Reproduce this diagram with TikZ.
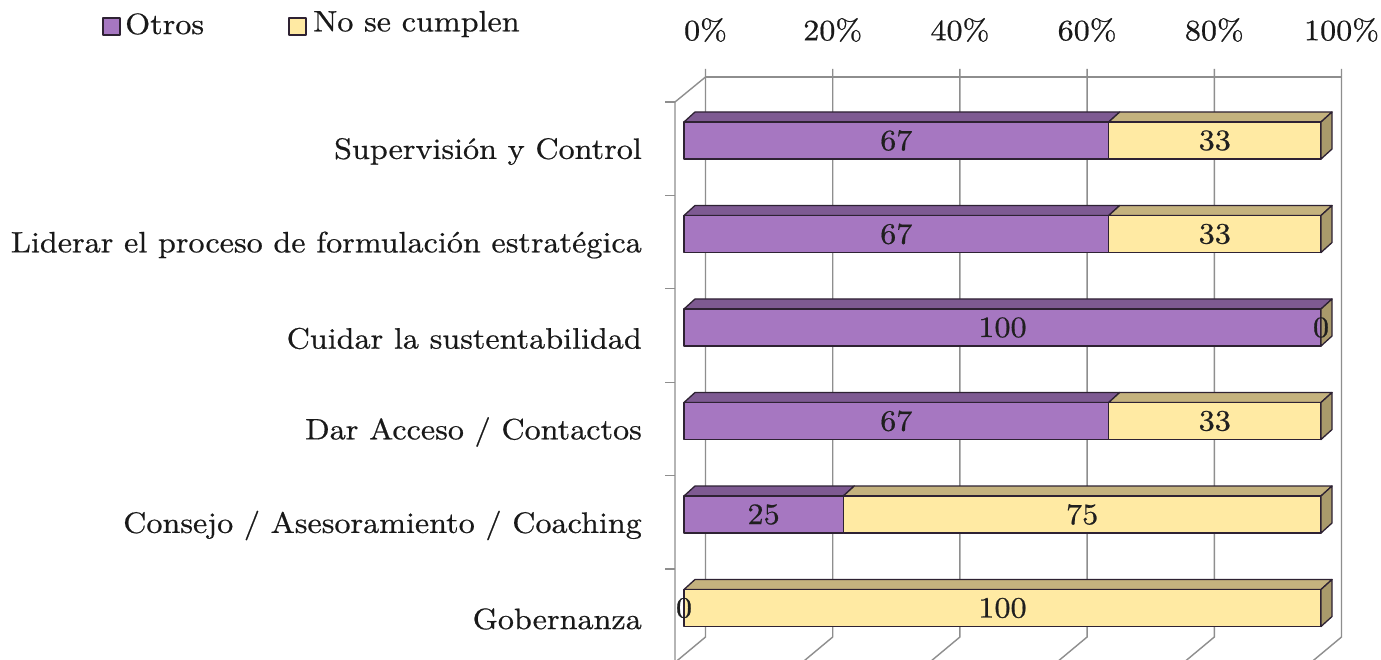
\documentclass[tikz,border=0pt]{standalone}
\usepackage{fontspec}
\setmainfont{lmroman10-regular.otf}[FakeStretch=1.09, FakeBold=0.6]
\definecolor{pfront}{HTML}{A677C1}
\definecolor{ptop}{HTML}{7E5A92}
\definecolor{yfront}{HTML}{FFEAA3}
\definecolor{ytop}{HTML}{C4B27E}
\definecolor{yside}{HTML}{A99A6B}
\definecolor{edgec}{HTML}{2E2233}
\definecolor{gridc}{HTML}{8E8E8E}
\tikzset{
  gridline/.style={draw=gridc, line width=1.4pt},
  baredge/.style={draw=edgec, line width=1.3pt, line join=round},
  txt/.style={font=\fontsize{29.5}{34}\selectfont, inner sep=0pt, text=black!90},
  vallab/.style={txt, text=black!88},
}
% segment: #1 x1, #2 x2, #3 yc, #4 front colour, #5 top colour
\newcommand{\barseg}[5]{%
  \path[baredge, fill=#5] (#1,#3-18.5) -- (#1+11,#3-28.5) -- (#2+11,#3-28.5) -- (#2,#3-18.5) -- cycle;
  \path[baredge, fill=#4] (#1,#3-18.5) rectangle (#2,#3+18.5);
}
\newcommand{\barside}[3]{%
  \path[baredge, fill=#3] (#1,#2-18.5) -- (#1+11,#2-28.5) -- (#1+11,#2+8.5) -- (#1,#2+18.5) -- cycle;
}
\begin{document}
\begin{tikzpicture}[x=1pt, y=-1pt]
\useasboundingbox (0,0) rectangle (1381,660);
\fill[white] (0,0) rectangle (1381,660);
% ---- grid (back wall, floor, left wall)
\foreach \i in {0,...,5}{
  \pgfmathsetmacro{\gx}{705.5+127.2*\i}
  \draw[gridline] (\gx,69) -- (\gx,637) -- (\gx-30,662);
}
\draw[gridline] (705.5,77) -- (1341.5,77);
\draw[gridline] (705.5,77) -- (675,102) -- (675,662);
\foreach \k in {0,...,6}{
  \draw[gridline] (665,102+93.4*\k) -- (675,102+93.4*\k);
}
% ---- axis labels
\foreach \i/\t in {0/0\%,1/20\%,2/40\%,3/60\%,4/80\%,5/100\%}{
  \node[txt] (ax\i) at (705.5+127.2*\i,30) {\t};
}
% ---- legend
\draw[baredge, fill=pfront, line width=1.2pt] (103,18) rectangle (120,35);
\node[txt, anchor=west] (legO) at (125,24) {Otros};
\draw[baredge, fill=yfront, line width=1.2pt] (289,18) rectangle (306,35);
\node[txt, anchor=west] (legN) at (313,24) {No se cumplen};
% ---- bars
% k=0 Supervision
\def\yc{140.5}
\barseg{684}{1108.7}{\yc}{pfront}{ptop}
\barseg{1108.7}{1321}{\yc}{yfront}{ytop}
\barside{1321}{\yc}{yside}
\node[vallab] (v0a) at (896.3,\yc) {67};
\node[vallab] (v0b) at (1214.8,\yc) {33};
\node[txt, anchor=east] (c0) at (642,\yc+11) {Supervisión y Control};
% k=1
\def\yc{234}
\barseg{684}{1108.7}{\yc}{pfront}{ptop}
\barseg{1108.7}{1321}{\yc}{yfront}{ytop}
\barside{1321}{\yc}{yside}
\node[vallab] (v1a) at (896.3,\yc) {67};
\node[vallab] (v1b) at (1214.8,\yc) {33};
\node[txt, anchor=east] (c1) at (642,\yc+11) {Liderar el proceso de formulación estratégica};
% k=2
\def\yc{327.5}
\barseg{684}{1321}{\yc}{pfront}{ptop}
\barside{1321}{\yc}{yside}
\node[vallab] (v2a) at (1002.5,\yc) {100};
\node[vallab] (v2b) at (1321,\yc) {0};
\node[txt, anchor=east] (c2) at (642,\yc+11) {Cuidar la sustentabilidad};
% k=3
\def\yc{421}
\barseg{684}{1108.7}{\yc}{pfront}{ptop}
\barseg{1108.7}{1321}{\yc}{yfront}{ytop}
\barside{1321}{\yc}{yside}
\node[vallab] (v3a) at (896.3,\yc) {67};
\node[vallab] (v3b) at (1214.8,\yc) {33};
\node[txt, anchor=east] (c3) at (642,\yc+11) {Dar Acceso / Contactos};
% k=4
\def\yc{514.5}
\barseg{684}{843.3}{\yc}{pfront}{ptop}
\barseg{843.3}{1321}{\yc}{yfront}{ytop}
\barside{1321}{\yc}{yside}
\node[vallab] (v4a) at (763.6,\yc) {25};
\node[vallab] (v4b) at (1082.1,\yc) {75};
\node[txt, anchor=east] (c4) at (642,\yc+11) {Consejo / Asesoramiento / Coaching};
% k=5
\def\yc{608}
\barseg{684}{1321}{\yc}{yfront}{ytop}
\barside{1321}{\yc}{yside}
\node[vallab] (v5a) at (684,\yc) {0};
\node[vallab] (v5b) at (1002.5,\yc) {100};
\node[txt, anchor=east] (c5) at (642,\yc+11) {Gobernanza};
\end{tikzpicture}
\end{document}
